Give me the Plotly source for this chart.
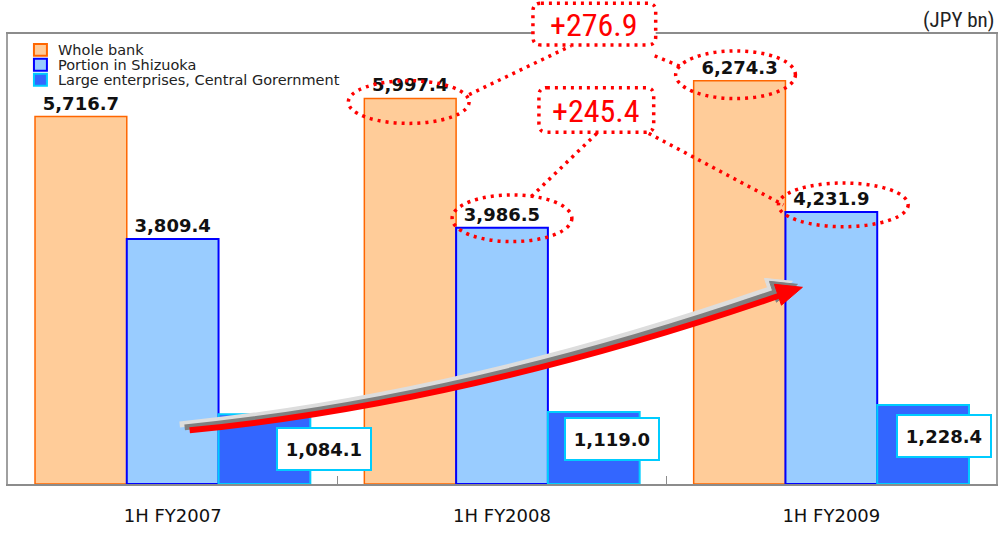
import plotly.graph_objects as go

categories = ["1H FY2007", "1H FY2008", "1H FY2009"]
whole_bank = [5716.7, 5997.4, 6274.3]
shizuoka = [3809.4, 3986.5, 4231.9]
large_ent = [1084.1, 1119.0, 1228.4]
diff_whole = "+276.9"
diff_shiz = "+245.4"
series_names = ["Whole bank", "Portion in Shizuoka", "Large enterprises, Central Gorernment"]
unit_label = "(JPY bn)"

W, H = 1005, 533
L, R, T, B = 8, 7, 34, 46
PW, PH = W - L - R, H - T - B


def PX(x):
    return (x - L) / PW


def PY(y):
    return (H - B - y) / PH


fills = ["#FFCC99", "#99CCFF", "#3366FF"]
edges = ["#FF6600", "#0000FF", "#00CCFF"]

fig = go.Figure()
label_font = dict(family="DejaVu Sans", size=18, color="#111111")
fig.add_trace(go.Bar(
    name=series_names[0], x=categories, y=whole_bank,
    marker=dict(color=fills[0], line=dict(color=edges[0], width=1.5)),
    texttemplate="<b>%{y:,.1f}</b>", textposition="outside", textfont=label_font,
    cliponaxis=False, constraintext="none",
))
fig.add_trace(go.Bar(
    name=series_names[1], x=categories, y=shizuoka,
    marker=dict(color=fills[1], line=dict(color=edges[1], width=2)),
    texttemplate="<b>%{y:,.1f}</b>", textposition="outside", textfont=label_font,
    cliponaxis=False, constraintext="none",
))
fig.add_trace(go.Bar(
    name=series_names[2], x=categories, y=large_ent,
    marker=dict(color=fills[2], line=dict(color=edges[2], width=2)),
))

shapes = []
annotations = []


def pathstr(points):
    s = "M {:.5f},{:.5f}".format(PX(points[0][0]), PY(points[0][1]))
    for p in points[1:]:
        s += " L {:.5f},{:.5f}".format(PX(p[0]), PY(p[1]))
    return s


def qpath(p0, c, p1):
    return "M {:.5f},{:.5f} Q {:.5f},{:.5f} {:.5f},{:.5f}".format(
        PX(p0[0]), PY(p0[1]), PX(c[0]), PY(c[1]), PX(p1[0]), PY(p1[1]))


# legend (drawn manually to match the compact row spacing)
for i, name in enumerate(series_names):
    yc = 50 + 15 * i
    shapes.append(dict(type="rect", xref="paper", yref="paper",
                       x0=PX(34), x1=PX(47), y0=PY(yc + 6), y1=PY(yc - 6),
                       fillcolor=fills[i], line=dict(color=edges[i], width=2), layer="above"))
    annotations.append(dict(xref="paper", yref="paper", x=PX(56), y=PY(yc),
                            text=name, showarrow=False, xanchor="left", yanchor="middle",
                            font=dict(family="DejaVu Sans", size=14.5, color="#222222")))

# curved growth arrow with shadow
arrow_start, arrow_ctrl, arrow_end = (190, 433), (470, 405), (782, 297)
for (dx, dy, col) in [(-10, -6, "#DDDDDD"), (-5, -3, "#808080")]:
    shapes.append(dict(type="path", xref="paper", yref="paper",
                       path=qpath((arrow_start[0] + dx, arrow_start[1] + dy),
                                  (arrow_ctrl[0] + dx, arrow_ctrl[1] + dy),
                                  (arrow_end[0] + dx, arrow_end[1] + dy)),
                       line=dict(color=col, width=6), layer="above"))
    head = [(783 + dx, 307 + dy), (804 + dx, 289 + dy), (776 + dx, 286 + dy)]
    shapes.append(dict(type="path", xref="paper", yref="paper",
                       path=pathstr(head) + " Z", fillcolor=col,
                       line=dict(color=col, width=1), layer="above"))
shapes.append(dict(type="path", xref="paper", yref="paper",
                   path=qpath(arrow_start, arrow_ctrl, arrow_end),
                   line=dict(color="#FF0000", width=6), layer="above"))
shapes.append(dict(type="path", xref="paper", yref="paper",
                   path=pathstr([(783, 307), (804, 289), (776, 286)]) + " Z",
                   fillcolor="#FF0000", line=dict(color="#FF0000", width=1), layer="above"))

dotline = dict(color="#FF0000", width=3.5, dash="3px,5px")

# ellipses around labels
for (x0, x1, y0, y1) in [(349, 470, 81, 124), (677, 797, 51, 99),
                         (453, 573, 196, 243), (780, 910, 184, 228)]:
    shapes.append(dict(type="circle", xref="paper", yref="paper",
                       x0=PX(x0), x1=PX(x1), y0=PY(y1), y1=PY(y0),
                       line=dotline, layer="above"))

# connector lines
for (a, b) in [((470, 95), (572, 46)), ((656, 56), (685, 68)),
               ((598, 134), (532, 198)), ((650, 134), (785, 206))]:
    shapes.append(dict(type="line", xref="paper", yref="paper",
                       x0=PX(a[0]), y0=PY(a[1]), x1=PX(b[0]), y1=PY(b[1]),
                       line=dotline, layer="above"))


def rounded(x0, y0, x1, y1, r):
    pts = "M {:.5f},{:.5f}".format(PX(x0 + r), PY(y0))
    pts += " L {:.5f},{:.5f}".format(PX(x1 - r), PY(y0))
    pts += " Q {:.5f},{:.5f} {:.5f},{:.5f}".format(PX(x1), PY(y0), PX(x1), PY(y0 + r))
    pts += " L {:.5f},{:.5f}".format(PX(x1), PY(y1 - r))
    pts += " Q {:.5f},{:.5f} {:.5f},{:.5f}".format(PX(x1), PY(y1), PX(x1 - r), PY(y1))
    pts += " L {:.5f},{:.5f}".format(PX(x0 + r), PY(y1))
    pts += " Q {:.5f},{:.5f} {:.5f},{:.5f}".format(PX(x0), PY(y1), PX(x0), PY(y1 - r))
    pts += " L {:.5f},{:.5f}".format(PX(x0), PY(y0 + r))
    pts += " Q {:.5f},{:.5f} {:.5f},{:.5f} Z".format(PX(x0), PY(y0), PX(x0 + r), PY(y0))
    return pts


for (bx, txt) in [((534, 3, 657, 45), diff_whole), ((540, 88, 655, 133), diff_shiz)]:
    shapes.append(dict(type="path", xref="paper", yref="paper",
                       path=rounded(*bx, 8), fillcolor="white",
                       line=dotline, layer="above"))
    annotations.append(dict(xref="paper", yref="paper",
                            x=PX((bx[0] + bx[2]) / 2), y=PY((bx[1] + bx[3]) / 2 + 1),
                            text=txt, showarrow=False,
                            font=dict(family="Liberation Sans Narrow, Roboto Condensed, Liberation Sans",
                                      size=32, color="#FF0000"),
                            xanchor="center", yanchor="middle"))

# value boxes for large enterprises
box_pos = [(325, 452), (613, 442), (946, 439)]
for v, (cx, cy) in zip(large_ent, box_pos):
    annotations.append(dict(xref="paper", yref="paper", x=PX(cx), y=PY(cy),
                            text="<b>{:,.1f}</b>".format(v), showarrow=False,
                            font=label_font, bgcolor="white",
                            bordercolor="#00CCFF", borderwidth=2, borderpad=0,
                            width=92, height=40, xanchor="center", yanchor="middle"))

annotations.append(dict(xref="paper", yref="paper", x=1.0, y=PY(20),
                        text=unit_label, showarrow=False, xanchor="right", yanchor="middle",
                        font=dict(family="Liberation Sans Narrow, Roboto Condensed, Liberation Sans",
                                  size=21, color="#222222")))

fig.update_layout(
    width=W, height=H,
    margin=dict(l=L, r=R, t=T, b=B),
    paper_bgcolor="white", plot_bgcolor="white",
    barmode="group", bargap=0.164, bargroupgap=0,
    showlegend=False,
    shapes=shapes, annotations=annotations,
    font=dict(family="DejaVu Sans"),
)
fig.update_xaxes(showline=True, linecolor="#8C8C8C", linewidth=2, mirror=True,
                 ticks="inside", tickson="boundaries", ticklen=8, tickcolor="#8C8C8C",
                 tickfont=dict(family="DejaVu Sans", size=18, color="#111111"),
                 ticklabelstandoff=14, showgrid=False)
fig.update_yaxes(range=[0, 7000], showline=True, linecolor="#A0A0A0", linewidth=2, mirror=True,
                 showticklabels=False, ticks="", showgrid=False, zeroline=False)

fig.write_html("out.html")
